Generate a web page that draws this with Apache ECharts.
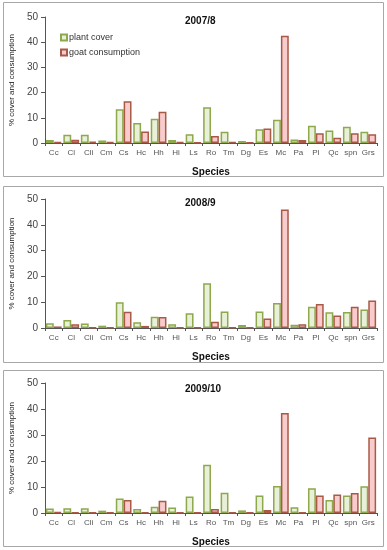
<!DOCTYPE html>
<html><head><meta charset="utf-8">
<script src="https://cdn.jsdelivr.net/npm/echarts@6/dist/echarts.min.js"></script>
<style>html,body{margin:0;padding:0;background:#fff}#c{width:387px;height:550px}</style>
</head><body><div id="c"></div>
<script>
const species = ['Cc','Cl','Cli','Cm','Cs','Hc','Hh','Hi','Ls','Ro','Tm','Dg','Es','Mc','Pa','Pl','Qc','spn','Grs'];
const periods = ['2007/8','2008/9','2009/10'];
const yTicks = [0,10,20,30,40,50];
const cover2007 = [1.2,3.3,3.3,1.0,13.4,7.9,9.6,1.2,3.5,14.2,4.5,0.8,5.5,9.2,1.4,6.8,5.0,6.4,4.5];
const goat2007  = [0.3,1.3,0.5,0.3,16.6,4.6,12.4,0.3,0.2,2.8,0.3,0.2,5.8,42.6,1.2,3.9,2.1,3.9,3.5];
const cover2008 = [1.8,3.1,1.7,0.9,10.0,2.2,4.4,1.5,5.7,17.3,6.4,1.2,6.4,9.7,1.3,8.2,6.1,6.2,7.2];
const goat2008  = [0.6,1.5,0.2,0.2,6.3,0.8,4.3,0.2,0.2,2.4,0.2,0.2,3.7,45.9,1.5,9.3,4.8,8.2,10.7];
const cover2009 = [1.7,1.8,1.8,0.9,5.6,1.5,2.4,2.1,6.3,18.6,7.8,1.0,6.7,10.4,2.2,9.5,5.0,6.7,10.3];
const goat2009  = [0.3,0.2,0.2,0.2,5.0,0.2,4.7,0.2,0.2,1.5,0.2,0.2,1.2,38.5,0.2,6.7,7.1,7.7,29.0];

const coverData = [cover2007, cover2008, cover2009];
const goatData = [goat2007, goat2008, goat2009];

const panels = [
  {box:[3,2,380,174], grid:{top:17,height:126}, titleTop:11},
  {box:[3,186,380,176], grid:{top:199,height:129}, titleTop:193},
  {box:[3,370,380,176], grid:{top:383,height:130}, titleTop:379}
];
const font = '"Liberation Sans", Arial, sans-serif';
const plantStyle = {color:'#e8f0da', borderColor:'#8ea84c', borderWidth:1.5};
const goatStyle = {color:'#f8cccc', borderColor:'#a85a46', borderWidth:1.5};

const grids=[], xAxes=[], yAxes=[], series=[], titles=[], graphics=[];
panels.forEach((p,i)=>{
  graphics.push({type:'rect', shape:{x:p.box[0]+0.5,y:p.box[1]+0.5,width:p.box[2],height:p.box[3]},
    style:{fill:'none', stroke:'#a8a8a8', lineWidth:1}, z:-1});
  grids.push({left:40, width:337, top:p.grid.top, height:p.grid.height});
  titles.push({text:periods[i], left:180, top:p.titleTop,
    textStyle:{fontFamily:font, fontSize:10, fontWeight:'bold', color:'#111'}});
  xAxes.push({type:'category', gridIndex:i, data:species,
    name:'Species', nameLocation:'middle', nameGap:24,
    nameTextStyle:{fontFamily:font, fontSize:10, fontWeight:'bold', color:'#111'},
    axisLine:{lineStyle:{color:'#555', width:1}},
    axisTick:{show:true, length:3, lineStyle:{color:'#555'}},
    axisLabel:{fontFamily:font, fontSize:8, color:'#555', margin:6, interval:0}});
  yAxes.push({type:'value', gridIndex:i, min:yTicks[0], max:yTicks[yTicks.length-1], interval:10,
    name:'% cover and consumption', nameLocation:'middle', nameRotate:90, nameGap:25,
    nameTextStyle:{fontFamily:font, fontSize:8, color:'#222'},
    axisLine:{show:true, lineStyle:{color:'#555', width:1}},
    axisTick:{show:true, length:4, lineStyle:{color:'#555'}},
    splitLine:{show:false},
    axisLabel:{fontFamily:font, fontSize:10, color:'#444', margin:7}});
  series.push({name:'plant cover', type:'bar', xAxisIndex:i, yAxisIndex:i, data:coverData[i],
    itemStyle:plantStyle, barGap:'0%', barCategoryGap:'10%', animation:false});
  series.push({name:'goat consumption', type:'bar', xAxisIndex:i, yAxisIndex:i, data:goatData[i],
    itemStyle:goatStyle, barGap:'0%', barCategoryGap:'10%', animation:false});
});

const chart = echarts.init(document.getElementById('c'), null, {renderer:'canvas'});
chart.setOption({
  animation:false,
  backgroundColor:'#fff',
  title:titles,
  legend:{data:['plant cover','goat consumption'], orient:'vertical', left:55, top:28,
    itemWidth:6, itemHeight:6, itemGap:6, icon:'rect',
    textStyle:{fontFamily:font, fontSize:9, color:'#333', padding:[0,0,0,-3]}},
  grid:grids, xAxis:xAxes, yAxis:yAxes, series:series,
  graphic:graphics
});
</script></body></html>
